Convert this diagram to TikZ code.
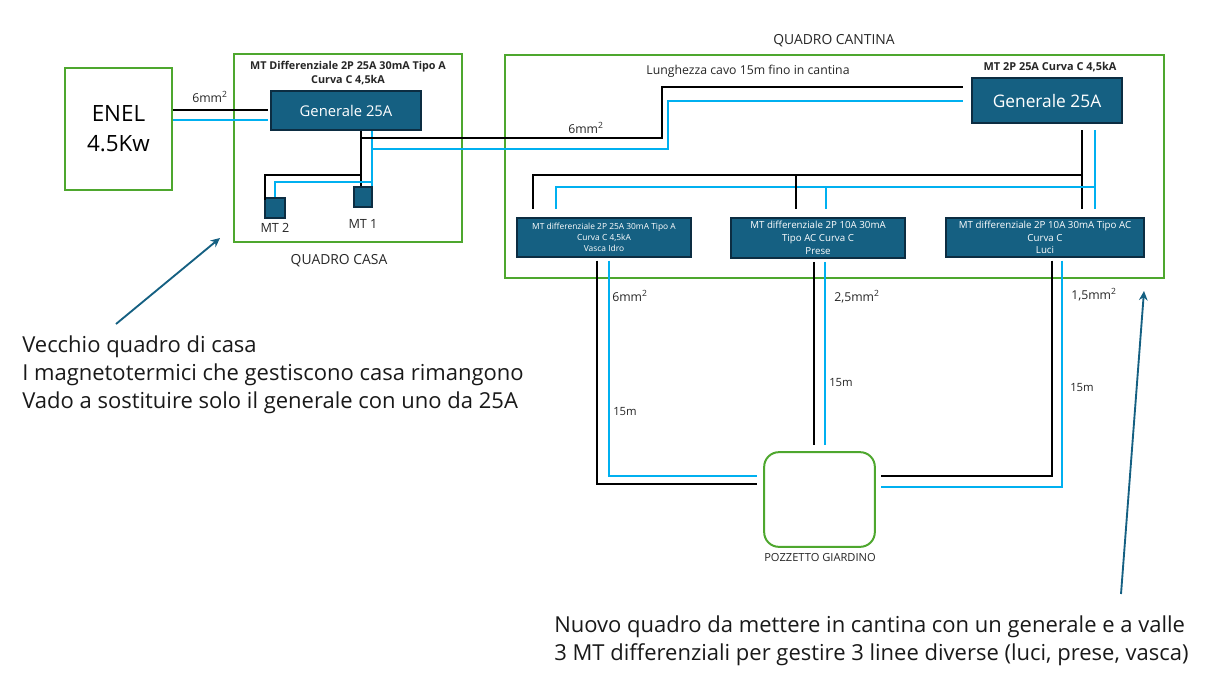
\documentclass[tikz,border=0pt]{standalone}
\usepackage{fontspec}
\usetikzlibrary{arrows.meta}
\setmainfont{Open Sans}
\definecolor{boxgreen}{HTML}{4EA72E}
\definecolor{boxblue}{HTML}{156082}
\definecolor{boxedge}{HTML}{0C2D42}
\definecolor{wireblue}{HTML}{00B0F0}
\tikzset{
	panel/.style={draw=boxgreen,line width=1.5pt,inner sep=0pt},
	breaker/.style={draw=boxedge,fill=boxblue,line width=1.3pt,inner sep=0pt,text=white,align=center},
	line/.style={draw=black,line width=1.5pt},
	neutral/.style={draw=wireblue,line width=1.5pt},
	pointer/.style={draw=boxblue,line width=1.4pt,-{Stealth[length=7pt,width=6.5pt]}},
	label/.style={inner sep=0pt,text=black!85,align=center},
	note/.style={inner sep=0pt,text=black!90,align=left,font=\fontsize{16.5}{21}\selectfont},
}
\begin{document}
\begin{tikzpicture}[x=0.75pt,y=-0.75pt]
	\useasboundingbox (0,0) rectangle (1221,686);
	% boxes
	\node[panel,minimum width=80pt,minimum height=92pt,font=\fontsize{16.8}{22.5}\selectfont,align=center] (enel) at (118.5,129) {ENEL\\4.5Kw};
	\node[panel,minimum width=171pt,minimum height=141pt] (casa) at (348,148) {};
	\node[panel,minimum width=494pt,minimum height=167pt] (cantina) at (834.5,166.5) {};
	\node[panel,minimum width=83pt,minimum height=71pt,rounded corners=11pt] (pozzetto) at (819.5,499.5) {};
	\node[breaker,minimum width=112pt,minimum height=29pt,font=\fontsize{11.1}{13}\selectfont] (gencasa) at (346,110.5) {Generale 25A};
	\node[breaker,minimum width=14pt,minimum height=15pt] (mtone) at (363,197) {};
	\node[breaker,minimum width=15pt,minimum height=15pt] (mttwo) at (275,208) {};
	\node[breaker,minimum width=112pt,minimum height=34pt,font=\fontsize{13}{15}\selectfont] (gencantina) at (1047,100.5) {Generale 25A};
	\node[breaker,minimum width=130pt,minimum height=29pt,font=\fontsize{6.3}{8.2}\selectfont] (idro) at (604,237.5) {MT differenziale 2P 25A 30mA Tipo A\\Curva C 4,5kA\\Vasca Idro};
	\node[breaker,minimum width=130pt,minimum height=30pt,font=\fontsize{7.3}{9.6}\selectfont] (prese) at (818,238) {MT differenziale 2P 10A 30mA\\Tipo AC Curva C\\Prese};
	\node[breaker,minimum width=149pt,minimum height=29pt,font=\fontsize{7.3}{9.3}\selectfont] (luci) at (1045,237.5) {MT differenziale 2P 10A 30mA Tipo AC\\Curva C\\Luci};
	% junctions
	\coordinate (jblack) at (361,175);
	\coordinate (jblue) at (372,182);
	\coordinate (busblack) at (1082,175);
	\coordinate (busblue) at (1095,187);
	\coordinate (busblackend) at (533,175);
	\coordinate (busblueend) at (556,187);
	% wires
	\draw[line,shorten >=2.2pt] (enel.east |- 0,110) -- (gencasa.west |- 0,110);
	\draw[neutral,shorten >=2.2pt] (enel.east |- 0,120) -- (gencasa.west |- 0,120);
	\draw[line] (gencasa.south -| jblack) -- (mtone.north -| jblack);
	\draw[neutral] (gencasa.south -| jblue) -- (mtone.north -| jblue);
	\draw[line,shorten >=2.2pt] (jblack) -| (265,198) -- (mttwo.north -| 265,0);
	\draw[neutral] (jblue) -| (mttwo.north -| 275,0);
	\draw[line,shorten >=6pt] (361,138) -| (662,87) -- (gencantina.west |- 0,87);
	\draw[neutral,shorten >=6pt] (372,149) -| (668,101) -- (gencantina.west |- 0,101);
	\draw[line,shorten <=4.5pt,shorten >=6pt] (gencantina.south -| busblack) -- (luci.north -| busblack);
	\draw[neutral,shorten <=4.5pt,shorten >=6pt] (gencantina.south -| busblue) -- (luci.north -| busblue);
	\draw[line,shorten >=6pt] (busblack) -- (busblackend) -- (idro.north -| busblackend);
	\draw[neutral,shorten >=6pt] (busblue) -- (busblueend) -- (idro.north -| busblueend);
	\draw[line,shorten >=6pt] (796,175) -- (prese.north -| 796,0);
	\draw[neutral,shorten >=6pt] (826,187) -- (prese.north -| 826,0);
	\draw[line,shorten <=2.2pt,shorten >=4.5pt] (idro.south -| 597,0) |- (pozzetto.west |- 0,484);
	\draw[neutral,shorten <=2.2pt,shorten >=4.5pt] (idro.south -| 609,0) |- (pozzetto.west |- 0,476);
	\draw[line,shorten <=2.2pt,shorten >=4.5pt] (prese.south -| 814,0) -- (pozzetto.north -| 814,0);
	\draw[neutral,shorten <=2.2pt,shorten >=4.5pt] (prese.south -| 825,0) -- (pozzetto.north -| 825,0);
	\draw[line,shorten <=2.2pt,shorten >=4pt] (luci.south -| 1052,0) |- (pozzetto.east |- 0,476);
	\draw[neutral,shorten <=2.2pt,shorten >=4pt] (luci.south -| 1062,0) |- (pozzetto.east |- 0,487);
	% pointers
	\coordinate (casafrom) at (116,324);
	\coordinate (casatip) at (220,238);
	\coordinate (cantinafrom) at (1121,594);
	\coordinate (cantinatip) at (1144,291);
	\draw[pointer] (casafrom) -- (casatip);
	\draw[pointer] (cantinafrom) -- (cantinatip);
	% labels
	\node[label,font=\bfseries\fontsize{8.1}{10.5}\selectfont] (titlecasa) at (348,73) {MT Differenziale 2P 25A 30mA Tipo A\\Curva C 4,5kA};
	\node[label,font=\bfseries\fontsize{8.2}{10}\selectfont] (titlecantina) at (1050,67.5) {MT 2P 25A Curva C 4,5kA};
	\node[label,font=\fontsize{10.4}{12}\selectfont] (namecasa) at (339,260.5) {QUADRO CASA};
	\node[label,font=\fontsize{10.4}{12}\selectfont] (namecantina) at (834,41) {QUADRO CANTINA};
	\node[label,font=\fontsize{9.2}{11}\selectfont] (lunghezza) at (748,71.5) {Lunghezza cavo 15m fino in cantina};
	\node[label,font=\fontsize{9.2}{11}\selectfont] (sezenel) at (210,97) {6mm\textsuperscript{2}};
	\node[label,font=\fontsize{9.2}{11}\selectfont] (sezcavo) at (586,128) {6mm\textsuperscript{2}};
	\node[label,font=\fontsize{9.2}{11}\selectfont] (sezidro) at (630,296) {6mm\textsuperscript{2}};
	\node[label,font=\fontsize{9.2}{11}\selectfont] (sezprese) at (857,297) {2,5mm\textsuperscript{2}};
	\node[label,font=\fontsize{9.2}{11}\selectfont] (sezluci) at (1094,295) {1,5mm\textsuperscript{2}};
	\node[label,font=\fontsize{9.5}{11}\selectfont] (nameone) at (363,224) {MT 1};
	\node[label,font=\fontsize{9.5}{11}\selectfont] (nametwo) at (275,228) {MT 2};
	\node[label,font=\fontsize{8.5}{10}\selectfont] (lenidro) at (625,412) {15m};
	\node[label,font=\fontsize{8.5}{10}\selectfont] (lenprese) at (841,383) {15m};
	\node[label,font=\fontsize{8.5}{10}\selectfont] (lenluci) at (1082,388) {15m};
	\node[label,font=\fontsize{8.35}{10}\selectfont] (namepozzetto) at (820,558) {POZZETTO GIARDINO};
	\node[note,anchor=north west] (notecasa) at (22,335.5) {Vecchio quadro di casa\\I magnetotermici che gestiscono casa rimangono\\Vado a sostituire solo il generale con uno da 25A};
	\node[note,anchor=north west] (notecantina) at (554,616) {Nuovo quadro da mettere in cantina con un generale e a valle\\3 MT differenziali per gestire 3 linee diverse (luci, prese, vasca)};
\end{tikzpicture}
\end{document}
